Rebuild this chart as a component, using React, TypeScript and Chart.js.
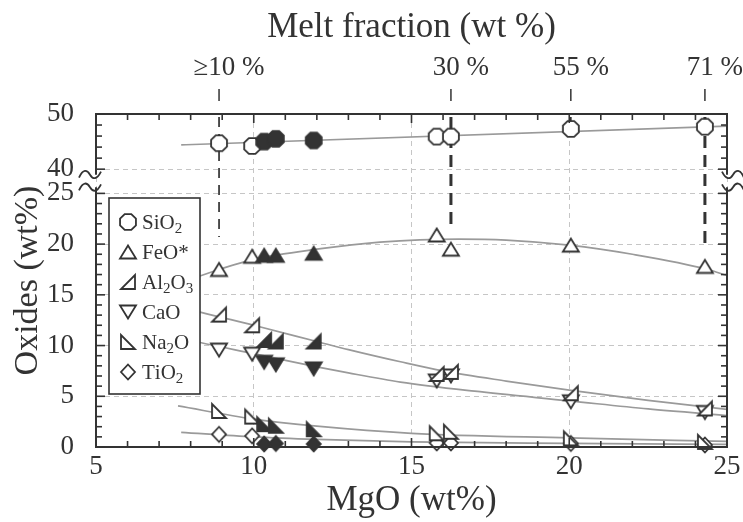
import React, { useEffect, useRef } from 'react';
import { Chart, registerables } from 'chart.js';

Chart.register(...registerables);

// ---------------- data ----------------
const oxideNames = ['SiO2', 'FeO*', 'Al2O3', 'CaO', 'Na2O', 'TiO2'];

const mgoOpen = [8.9, 9.95, 15.8, 16.25, 20.05, 24.3];
const mgoFilled = [10.33, 10.7, 11.9];

const sio2Open = [44.7, 44.2, 45.9, 45.9, 47.3, 47.7];
const sio2Filled = [45.0, 45.5, 45.2];
const feoOpen = [17.5, 18.8, 20.9, 19.5, 19.9, 17.8];
const feoFilled = [18.9, 18.9, 19.1];
const al2o3Open = [13.05, 12.0, 7.2, 7.4, 5.3, 3.8];
const al2o3Filled = [10.55, 10.4, 10.4];
const caoOpen = [9.55, 9.15, 6.5, 7.0, 4.45, 3.4];
const caoFilled = [8.35, 8.1, 7.7];
const na2oOpen = [3.55, 3.0, 1.35, 1.5, 0.85, 0.5];
const na2oFilled = [2.25, 2.1, 1.75];
const tio2Open = [1.25, 1.1, 0.4, 0.4, 0.35, 0.2];
const tio2Filled = [0.3, 0.35, 0.3];

// trend curves, sampled along the grey curves of the picture
const sio2TrendMgO = [7.7, 25];
const sio2Trend = [44.4, 47.8];
const feoTrendMgO = [7.6, 9, 10, 12, 14, 16.5, 18, 20, 22, 24.4, 25];
const feoTrend = [16.1, 17.6, 18.5, 19.5, 20.2, 20.5, 20.4, 19.9, 19.0, 17.5, 16.9];
const al2o3TrendMgO = [7.6, 8.3, 10, 12, 13, 14.65, 16, 18, 20, 22.5, 25];
const al2o3Trend = [13.9, 13.3, 12.0, 10.4, 9.6, 8.4, 7.5, 6.5, 5.6, 4.6, 3.7];
const caoTrendMgO = [7.6, 8.3, 10, 12, 13, 14.65, 17, 20, 22.5, 25];
const caoTrend = [10.8, 10.3, 9.2, 7.9, 7.3, 6.4, 5.5, 4.55, 3.75, 3.1];
const na2oTrendMgO = [7.6, 10, 12, 15, 20, 25];
const na2oTrend = [4.05, 2.75, 2.05, 1.35, 0.9, 0.55];
const tio2TrendMgO = [7.7, 10, 12, 15, 20, 25];
const tio2Trend = [1.45, 1.0, 0.75, 0.5, 0.35, 0.25];

// melt-fraction markers on the top axis
const meltMgO = [8.9, 16.25, 20.05, 24.3];
const meltLabels = ['≥10 %', '30 %', '55 %', '71 %'];
const meltEnd = [20.7, 21.6, 47.3, 20.1];
const meltEndAxis = ['y', 'y', 'y2', 'y'];
const meltBold = [false, true, false, true];

// axes
const xTicks = [5, 10, 15, 20, 25];
const lowerTicks = [0, 5, 10, 15, 20, 25];
const upperTicks = [40, 50];
const xTitle = 'MgO (wt%)';
const topTitle = 'Melt fraction (wt %)';
const yTitle = 'Oxides (wt%)';

// ---------------- styles ----------------
const FONT = "'Liberation Serif', 'Times New Roman', serif";
const INK = '#333333';
const GRID = '#c6c6c6';
const TREND = '#9a9a9a';

type Shape = 'octagon' | 'triUp' | 'rtRight' | 'triDown' | 'rtLeft' | 'diamond';

function shapePoints(shape: Shape): number[][] {
  switch (shape) {
    case 'octagon': {
      const r = 8.6;
      const pts: number[][] = [];
      for (let k = 0; k < 8; k++) {
        const a = Math.PI / 8 + (k * Math.PI) / 4;
        pts.push([r * Math.cos(a), r * Math.sin(a)]);
      }
      return pts;
    }
    case 'triUp':
      return [[0, -6.5], [8, 6.5], [-8, 6.5]];
    case 'triDown':
      return [[0, 6.5], [8, -6.5], [-8, -6.5]];
    case 'rtRight':
      return [[-7, 7], [7, 7], [7, -7]];
    case 'rtLeft':
      return [[-7, -7], [-7, 7], [7, 7]];
    case 'diamond':
    default:
      return [[0, -7.5], [7, 0], [0, 7.5], [-7, 0]];
  }
}

function makeMarker(shape: Shape, filled: boolean): HTMLCanvasElement {
  const size = 22;
  const c = document.createElement('canvas');
  c.width = size;
  c.height = size;
  const g = c.getContext('2d')!;
  g.translate(size / 2, size / 2);
  g.beginPath();
  shapePoints(shape).forEach(([px, py], i) => (i ? g.lineTo(px, py) : g.moveTo(px, py)));
  g.closePath();
  g.fillStyle = filled ? INK : '#ffffff';
  g.fill();
  g.lineWidth = 1.8;
  g.strokeStyle = INK;
  g.lineJoin = 'miter';
  g.stroke();
  return c;
}

export default function App() {
  const ref = useRef<HTMLCanvasElement>(null);

  useEffect(() => {
    document.body.style.margin = '0';
    const canvas = ref.current!;

    const series = [
      { name: oxideNames[0], shape: 'octagon' as Shape, open: sio2Open, filled: sio2Filled, tx: sio2TrendMgO, ty: sio2Trend, axis: 'y2' },
      { name: oxideNames[1], shape: 'triUp' as Shape, open: feoOpen, filled: feoFilled, tx: feoTrendMgO, ty: feoTrend, axis: 'y' },
      { name: oxideNames[2], shape: 'rtRight' as Shape, open: al2o3Open, filled: al2o3Filled, tx: al2o3TrendMgO, ty: al2o3Trend, axis: 'y' },
      { name: oxideNames[3], shape: 'triDown' as Shape, open: caoOpen, filled: caoFilled, tx: caoTrendMgO, ty: caoTrend, axis: 'y' },
      { name: oxideNames[4], shape: 'rtLeft' as Shape, open: na2oOpen, filled: na2oFilled, tx: na2oTrendMgO, ty: na2oTrend, axis: 'y' },
      { name: oxideNames[5], shape: 'diamond' as Shape, open: tio2Open, filled: tio2Filled, tx: tio2TrendMgO, ty: tio2Trend, axis: 'y' },
    ];

    const markers = series.map((s) => ({ open: makeMarker(s.shape, false), filled: makeMarker(s.shape, true) }));

    const datasets: any[] = [];
    series.forEach((s, i) => {
      datasets.push({
        label: s.name + ' trend',
        data: s.tx.map((x, j) => ({ x, y: s.ty[j] })),
        showLine: true,
        borderColor: TREND,
        borderWidth: 1.7,
        pointRadius: 0,
        cubicInterpolationMode: 'monotone',
        xAxisID: 'x',
        yAxisID: s.axis,
        order: 3,
      });
      datasets.push({
        label: s.name,
        data: mgoOpen.map((x, j) => ({ x, y: s.open[j] })),
        showLine: false,
        pointStyle: markers[i].open,
        pointRadius: 8,
        xAxisID: 'x',
        yAxisID: s.axis,
        order: 2,
        clip: false,
      });
      datasets.push({
        label: s.name + ' (filled)',
        data: mgoFilled.map((x, j) => ({ x, y: s.filled[j] })),
        showLine: false,
        pointStyle: markers[i].filled,
        pointRadius: 8,
        xAxisID: 'x',
        yAxisID: s.axis,
        order: 1,
        clip: false,
      });
    });

    const line = (ctx: CanvasRenderingContext2D, x1: number, y1: number, x2: number, y2: number) => {
      ctx.beginPath();
      ctx.moveTo(x1, y1);
      ctx.lineTo(x2, y2);
      ctx.stroke();
    };

    const zig = (ctx: CanvasRenderingContext2D, x: number, y: number, dir: number) => {
      ctx.save();
      ctx.translate(x, y);
      ctx.scale(dir, 1);
      ctx.beginPath();
      ctx.moveTo(-17, 3);
      ctx.bezierCurveTo(-13, -6, -9, -5, -6, 0);
      ctx.bezierCurveTo(-3, 5, 1, 5, 5, -3);
      ctx.stroke();
      ctx.restore();
    };

    const decor = {
      id: 'decor',
      beforeDatasetsDraw(chart: any) {
        const ctx: CanvasRenderingContext2D = chart.ctx;
        const xs = chart.scales.x;
        const top = chart.chartArea.top;
        ctx.save();
        ctx.strokeStyle = INK;
        meltMgO.forEach((m, i) => {
          const px = xs.getPixelForValue(m);
          const yEnd = chart.scales[meltEndAxis[i]].getPixelForValue(meltEnd[i]);
          ctx.setLineDash([]);
          ctx.lineWidth = 1.5;
          line(ctx, px, top - 25, px, top - 13);
          ctx.lineWidth = meltBold[i] ? 3 : 1.7;
          ctx.setLineDash(meltBold[i] ? [12, 7] : [10, 7]);
          line(ctx, px, top + 3, px, yEnd);
        });
        ctx.restore();
      },
      afterDatasetsDraw(chart: any) {
        const ctx: CanvasRenderingContext2D = chart.ctx;
        const { left, right, top, bottom } = chart.chartArea;
        const xs = chart.scales.x;
        const yl = chart.scales.y;
        const yu = chart.scales.y2;
        const yb1 = yu.getPixelForValue(39);
        const yb2 = yl.getPixelForValue(25.6);
        ctx.save();
        ctx.setLineDash([]);
        ctx.strokeStyle = INK;
        ctx.lineWidth = 2;
        ctx.lineCap = 'butt';
        line(ctx, left - 1, top, right + 1, top);
        line(ctx, left - 1, bottom, right + 1, bottom);
        line(ctx, left, top, left, yb1);
        line(ctx, left, yb2, left, bottom);
        line(ctx, right, top, right, yb1);
        line(ctx, right, yb2, right, bottom);
        ctx.lineWidth = 1.8;
        zig(ctx, left, yb1, 1);
        zig(ctx, left, yb2, 1);
        zig(ctx, right, yb1, -1);
        zig(ctx, right, yb2, -1);

        // inward minor ticks
        ctx.lineWidth = 1.6;
        for (let v = xs.min; v <= xs.max + 1e-6; v += 1) {
          const p = xs.getPixelForValue(v);
          const len = v % 5 === 0 ? 9 : 6;
          line(ctx, p, bottom, p, bottom - len);
          line(ctx, p, top, p, top + len);
        }
        for (let v = 0; v <= 25 + 1e-6; v += 1) {
          const p = yl.getPixelForValue(v);
          const len = v % 5 === 0 ? 9 : 6;
          line(ctx, left, p, left + len, p);
          line(ctx, right, p, right - len, p);
        }
        for (let v = 40; v <= 50 + 1e-6; v += 2) {
          const p = yu.getPixelForValue(v);
          const len = v % 10 === 0 ? 9 : 6;
          line(ctx, left, p, left + len, p);
          line(ctx, right, p, right - len, p);
        }

        // y-axis title (spans both panels)
        ctx.fillStyle = INK;
        ctx.save();
        ctx.translate(28, (top + bottom) / 2);
        ctx.rotate(-Math.PI / 2);
        ctx.font = `34px ${FONT}`;
        ctx.textAlign = 'center';
        ctx.textBaseline = 'middle';
        ctx.fillText(yTitle, 0, 0);
        ctx.restore();

        // legend
        const bx = 109, by = 198, bw = 91, bh = 196;
        ctx.fillStyle = '#ffffff';
        ctx.fillRect(bx, by, bw, bh);
        ctx.lineWidth = 1.6;
        ctx.strokeStyle = INK;
        ctx.strokeRect(bx, by, bw, bh);
        series.forEach((s, i) => {
          const cy = 222 + i * 30;
          const mk = markers[i].open;
          ctx.drawImage(mk, 128 - mk.width / 2, cy - mk.height / 2);
          let tx = 142;
          const base = cy + 7;
          ctx.fillStyle = INK;
          ctx.textAlign = 'left';
          ctx.textBaseline = 'alphabetic';
          for (const ch of s.name) {
            const sub = ch >= '0' && ch <= '9';
            ctx.font = sub ? `15px ${FONT}` : `21px ${FONT}`;
            ctx.fillText(ch, tx, sub ? base + 4 : base);
            tx += ctx.measureText(ch).width;
          }
        });
        ctx.restore();
      },
    };

    const tickFont = { family: FONT, size: 27 };
    const noSidePad = (s: any) => { s.paddingLeft = 0; s.paddingRight = 0; };

    const chart = new Chart(canvas, {
      type: 'scatter',
      data: { datasets },
      options: {
        animation: false,
        responsive: false,
        events: [],
        layout: { padding: { left: 0, right: 16, top: 0, bottom: 0 } },
        plugins: { legend: { display: false }, tooltip: { enabled: false } },
        scales: {
          x: {
            type: 'linear',
            position: 'bottom',
            min: 5,
            max: 25,
            afterBuildTicks: (s: any) => { s.ticks = xTicks.map((value) => ({ value })); },
            ticks: { font: tickFont, color: INK, padding: 4, maxRotation: 0, autoSkip: false },
            grid: { color: GRID, lineWidth: 1, drawTicks: false, tickLength: 0 },
            border: { display: false, dash: [5, 4] },
            title: { display: true, text: xTitle, color: INK, font: { family: FONT, size: 35 }, padding: { top: 0, bottom: 0 } },
            afterFit: (s: any) => { s.height = 75; noSidePad(s); },
          },
          xTop: {
            type: 'linear',
            position: 'top',
            min: 5,
            max: 25,
            afterBuildTicks: (s: any) => { s.ticks = meltMgO.map((value) => ({ value })); },
            ticks: {
              font: tickFont,
              color: INK,
              padding: 30,
              labelOffset: 10,
              maxRotation: 0,
              autoSkip: false,
              callback: (_v: any, i: number) => meltLabels[i],
            },
            grid: { display: false, drawTicks: false },
            border: { display: false },
            title: { display: true, text: topTitle, color: INK, font: { family: FONT, size: 35 }, padding: { top: 7, bottom: 0 } },
            afterFit: (s: any) => { s.height = 114; noSidePad(s); },
          },
          y: {
            type: 'linear',
            position: 'left',
            stack: 'oxides',
            stackWeight: 266,
            min: 0,
            max: 26.3,
            afterBuildTicks: (s: any) => { s.ticks = lowerTicks.map((value) => ({ value })); },
            ticks: { font: tickFont, color: INK, padding: 22 },
            grid: { color: GRID, lineWidth: 1, drawTicks: false, tickLength: 0 },
            border: { display: false, dash: [5, 4] },
            afterFit: (s: any) => { s.width = 96; },
          },
          y2: {
            type: 'linear',
            position: 'left',
            stack: 'oxides',
            stackWeight: 66,
            min: 38,
            max: 50,
            afterBuildTicks: (s: any) => { s.ticks = upperTicks.map((value) => ({ value })); },
            ticks: { font: tickFont, color: INK, padding: 22 },
            grid: { color: GRID, lineWidth: 1, drawTicks: false, tickLength: 0 },
            border: { display: false, dash: [5, 4] },
            afterFit: (s: any) => { s.width = 96; },
          },
        },
      } as any,
      plugins: [decor],
    });

    return () => chart.destroy();
  }, []);

  return <canvas ref={ref} width={743} height={522} style={{ display: 'block' }} />;
}
